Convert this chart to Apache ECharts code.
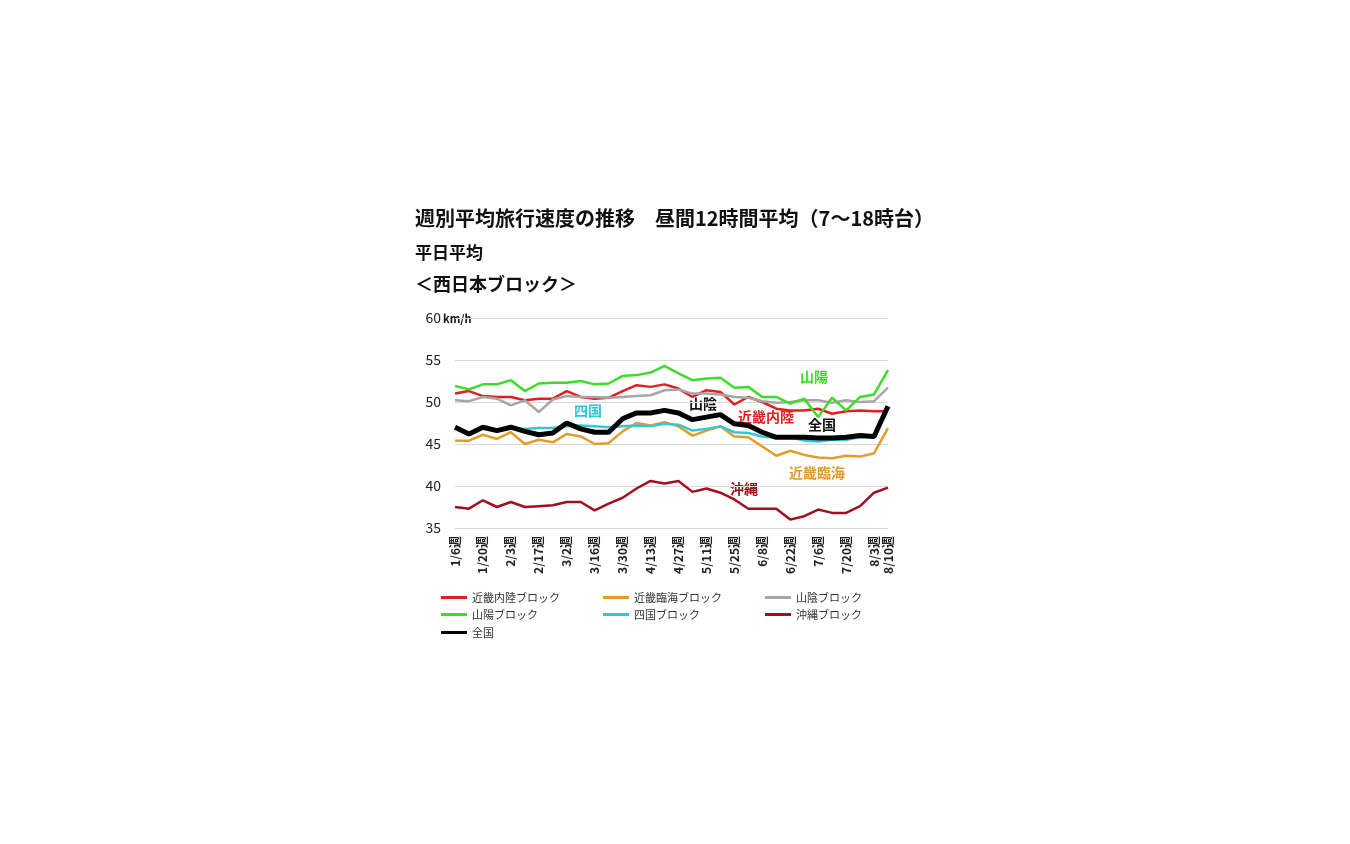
<!DOCTYPE html>
<html>
<head>
<meta charset="utf-8">
<script src="https://cdn.jsdelivr.net/npm/echarts@6/dist/echarts.min.js"></script>
<style>html,body{margin:0;background:#fff}#chart{width:1350px;height:844px}</style>
</head>
<body>
<div id="chart"></div>
<script>
var weeks = ['1/6','1/13','1/20','1/27','2/3','2/10','2/17','2/24','3/2','3/9','3/16','3/23','3/30','4/6','4/13','4/20',
  '4/27','5/4','5/11','5/18','5/25','6/1','6/8','6/15','6/22','6/29','7/6','7/13','7/20','7/27','8/3','8/10']
var kinkiNairiku = [51.0,51.3,50.7,50.6,50.6,50.2,50.4,50.4,51.3,50.6,50.4,50.5,51.3,52.0,51.8,52.1,
  51.6,50.6,51.4,51.2,49.7,50.6,50.0,49.2,49.0,49.0,49.2,48.6,48.9,49.0,48.9,48.9]
var kinkiRinkai = [45.4,45.4,46.1,45.6,46.4,45.0,45.5,45.2,46.2,45.9,45.0,45.1,46.5,47.5,47.2,47.6,
  47.1,46.0,46.6,47.1,45.9,45.8,44.7,43.6,44.2,43.7,43.4,43.3,43.6,43.5,43.9,46.9]
var sanin = [50.2,50.1,50.6,50.4,49.6,50.2,48.8,50.3,50.7,50.6,50.6,50.5,50.6,50.7,50.8,51.4,
  51.5,51.0,51.0,50.9,50.6,50.5,50.1,49.9,50.0,50.2,50.2,49.9,50.2,50.0,50.1,51.7]
var sanyo = [51.9,51.5,52.1,52.1,52.6,51.3,52.2,52.3,52.3,52.5,52.1,52.2,53.1,53.2,53.5,54.3,
  53.4,52.6,52.8,52.9,51.7,51.8,50.6,50.6,49.8,50.4,48.2,50.5,49.0,50.6,50.9,53.8]
var shikoku = [46.9,46.2,46.9,46.6,46.9,46.8,46.9,46.9,47.1,47.2,47.1,47.0,47.1,47.2,47.1,47.4,
  47.3,46.6,46.8,47.1,46.4,46.3,45.9,45.7,45.8,45.4,45.3,45.5,45.5,45.8,45.8,49.3]
var okinawa = [37.5,37.3,38.3,37.5,38.1,37.5,37.6,37.7,38.1,38.1,37.1,37.9,38.6,39.7,40.6,40.3,
  40.6,39.3,39.7,39.2,38.4,37.3,37.3,37.3,36.0,36.4,37.2,36.8,36.8,37.6,39.2,39.8]
var zenkoku = [47.0,46.2,47.0,46.6,47.0,46.5,46.1,46.3,47.5,46.8,46.4,46.4,48.0,48.7,48.7,49.0,
  48.7,47.9,48.2,48.5,47.4,47.2,46.4,45.8,45.8,45.8,45.7,45.7,45.8,46.0,45.9,49.5]

var chart = echarts.init(document.getElementById('chart'))
var font = 'Noto Sans CJK JP'
function line(name, data, color, w){
  return {name: name, type: 'line', data: data, symbol: 'none', lineStyle: {color: color, width: w}, itemStyle: {color: color}}
}
function leg(name, left, top){
  return {data: [name], left: left, top: top, itemWidth: 26, itemHeight: 3, icon: 'rect', itemGap: 4,
    textStyle: {fontFamily: font, fontSize: 11, color: '#333'}}
}
function note(text, x, y, color){
  return {type: 'text', left: x, top: y, style: {text: text, fill: color, font: 'bold 14px "Noto Sans CJK JP"'}}
}
var option = {
  animation: false,
  grid: {left: 455, right: 462, top: 318, bottom: 316},
  xAxis: {
    type: 'category', data: weeks.map(function(w){ return w + '週' }), boundaryGap: false,
    axisLine: {show: false}, axisTick: {show: false},
    axisLabel: {rotate: 90, fontFamily: font, fontSize: 12, fontWeight: 'bold', color: '#222', margin: 8,
      interval: function(i){ return i % 2 == 0 || i == 31 }}
  },
  yAxis: {
    type: 'value', min: 35, max: 60, interval: 5,
    axisLabel: {fontFamily: font, fontSize: 14, color: '#222', margin: 14},
    splitLine: {lineStyle: {color: '#d9d9d9'}}
  },
  legend: [
    leg('近畿内陸ブロック', 436, 587), leg('近畿臨海ブロック', 598, 587), leg('山陰ブロック', 760, 587),
    leg('山陽ブロック', 436, 604), leg('四国ブロック', 598, 604), leg('沖縄ブロック', 760, 604),
    leg('全国', 436, 622)
  ],
  graphic: [
    {type: 'text', left: 415, top: 208, style: {text: '週別平均旅行速度の推移　昼間12時間平均（7～18時台）', fill: '#111', font: 'bold 20px "Noto Sans CJK JP"'}},
    {type: 'text', left: 415, top: 244, style: {text: '平日平均', fill: '#111', font: 'bold 17px "Noto Sans CJK JP"'}},
    {type: 'text', left: 415, top: 275, style: {text: '＜西日本ブロック＞', fill: '#111', font: 'bold 18px "Noto Sans CJK JP"'}},
    {type: 'text', left: 443, top: 313, style: {text: 'km/h', fill: '#111', font: 'bold 11px "Noto Sans CJK JP"'}},
    note('山陽', 800, 370, '#3ddc2a'),
    note('四国', 574, 404, '#30c8d8'),
    note('山陰', 689, 397, '#111'),
    note('近畿内陸', 738, 410, '#e02020'),
    note('全国', 808, 418, '#111'),
    note('近畿臨海', 789, 466, '#e39b2a'),
    note('沖縄', 730, 482, '#a01020')
  ],
  series: [
    line('近畿内陸ブロック', kinkiNairiku, '#e02020', 2.5),
    line('近畿臨海ブロック', kinkiRinkai, '#e39b2a', 2.5),
    line('山陰ブロック', sanin, '#a6a6a6', 2.5),
    line('山陽ブロック', sanyo, '#3ddc2a', 2.5),
    line('四国ブロック', shikoku, '#30c8d8', 2.5),
    line('沖縄ブロック', okinawa, '#a01020', 2.5),
    line('全国', zenkoku, '#000', 5)
  ]
}
chart.setOption(option)
</script>
</body>
</html>
